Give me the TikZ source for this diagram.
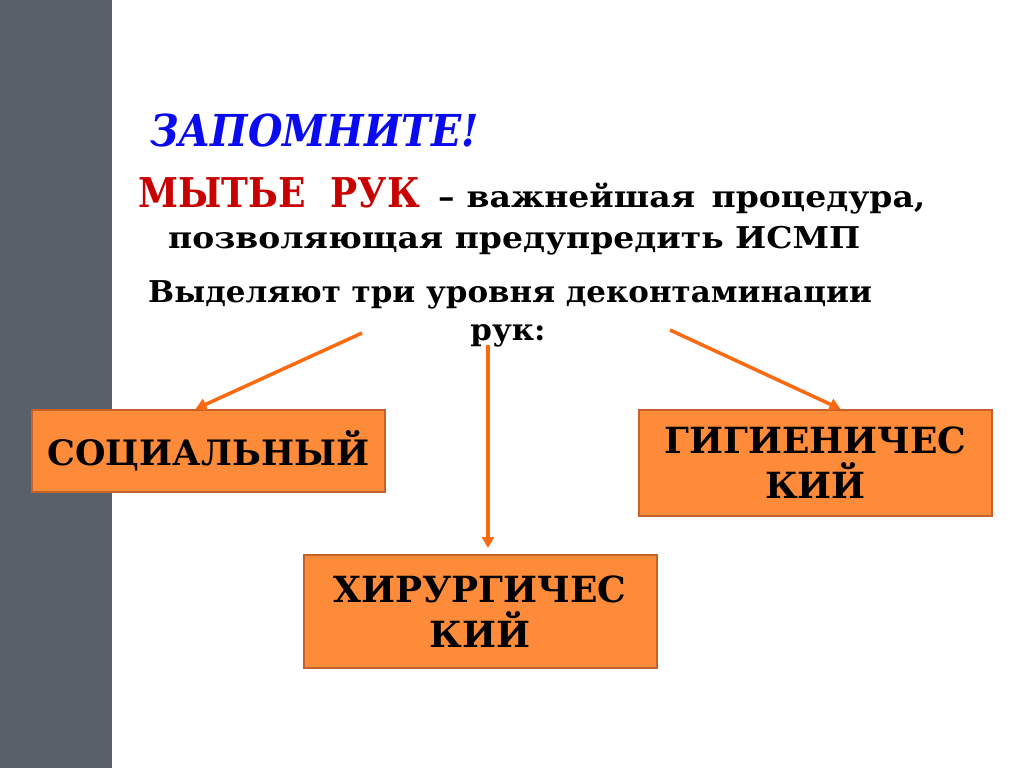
\documentclass[tikz,border=0pt]{standalone}
\usepackage{fontspec}
\setmainfont{DejaVu Serif}
\newfontfamily\titleFont[FakeStretch=0.9]{DejaVu Serif}
\newfontfamily\redFont[FakeStretch=0.88]{DejaVu Serif}
\newfontfamily\wideFont[FakeStretch=1.1]{DejaVu Serif}
\newfontfamily\midFont[FakeStretch=1.03]{DejaVu Serif}
\usetikzlibrary{positioning}
\usetikzlibrary{arrows.meta}
\usetikzlibrary{calc}
\definecolor{barGray}{RGB}{89,96,106}
\definecolor{boxFill}{RGB}{253,139,58}
\definecolor{boxEdge}{RGB}{196,98,40}
\definecolor{arrowOrange}{RGB}{252,106,16}
\definecolor{titleBlue}{RGB}{10,10,240}
\definecolor{headRed}{RGB}{200,0,0}
\tikzset{
    x=1pt, y=-1pt,
    every node/.append style={font=\bfseries},
    level/.style={fill=boxFill, draw=boxEdge, line width=2pt, inner sep=0pt, align=center,
        minimum width=353pt, font=\bfseries\fontsize{36}{45}\selectfont},
    branch/.style={-{Triangle[length=11pt,width=12pt]}, line width=3.5pt, arrowOrange},
    line/.style={anchor=base west, inner sep=0pt, font=\wideFont\bfseries\fontsize{30}{34}\selectfont}
}
\begin{document}
\begin{tikzpicture}
\useasboundingbox (0,0) rectangle (1024,768);
\fill[white] (0,0) rectangle (1024,768);
\fill[barGray] (0,0) rectangle (112,768);

\node[anchor=base west, inner sep=0pt, titleBlue, font=\titleFont\bfseries\itshape\fontsize{44}{50}\selectfont] (title) at (150,146) {ЗАПОМНИТЕ!};
\node[anchor=base west, inner sep=0pt, headRed, font=\redFont\bfseries\fontsize{41}{50}\selectfont] (wash) at (138,207) {МЫТЬЕ~~РУК};
\node[line] (dash) at (438,207) {–\hspace{0.4em}важнейшая\hspace{0.55em}процедура,};
\node[line] (prevent) at (168,248) {позволяющая предупредить ИСМП};
\node[line, font=\midFont\bfseries\fontsize{30}{34}\selectfont] (levels) at (148,302) {Выделяют три уровня деконтаминации};
\node[line, anchor=base, font=\midFont\bfseries\fontsize{30}{34}\selectfont] (hands) at (508,340) {рук:};

\node[level, minimum height=82pt, font=\bfseries\fontsize{35}{45}\selectfont] (soc) at (208.5,451) {СОЦИАЛЬНЫЙ};
\node[level, minimum height=106pt] (hyg) at (815.5,463) {ГИГИЕНИЧЕС\\КИЙ};
\node[level, minimum height=113pt] (sur) at (480,611.5) {ХИРУРГИЧЕС\\КИЙ};

\coordinate (fromL) at (362,333);
\coordinate (fromM) at (488,345);
\coordinate (fromR) at (670,330);
\draw[branch] (fromL) -- ($(soc.north)+(-13,0)$);
\draw[branch] (fromM) -- ($(sur.north)+(8,-6)$);
\draw[branch] (fromR) -- ($(hyg.north)+(25,0)$);
\end{tikzpicture}
\end{document}
